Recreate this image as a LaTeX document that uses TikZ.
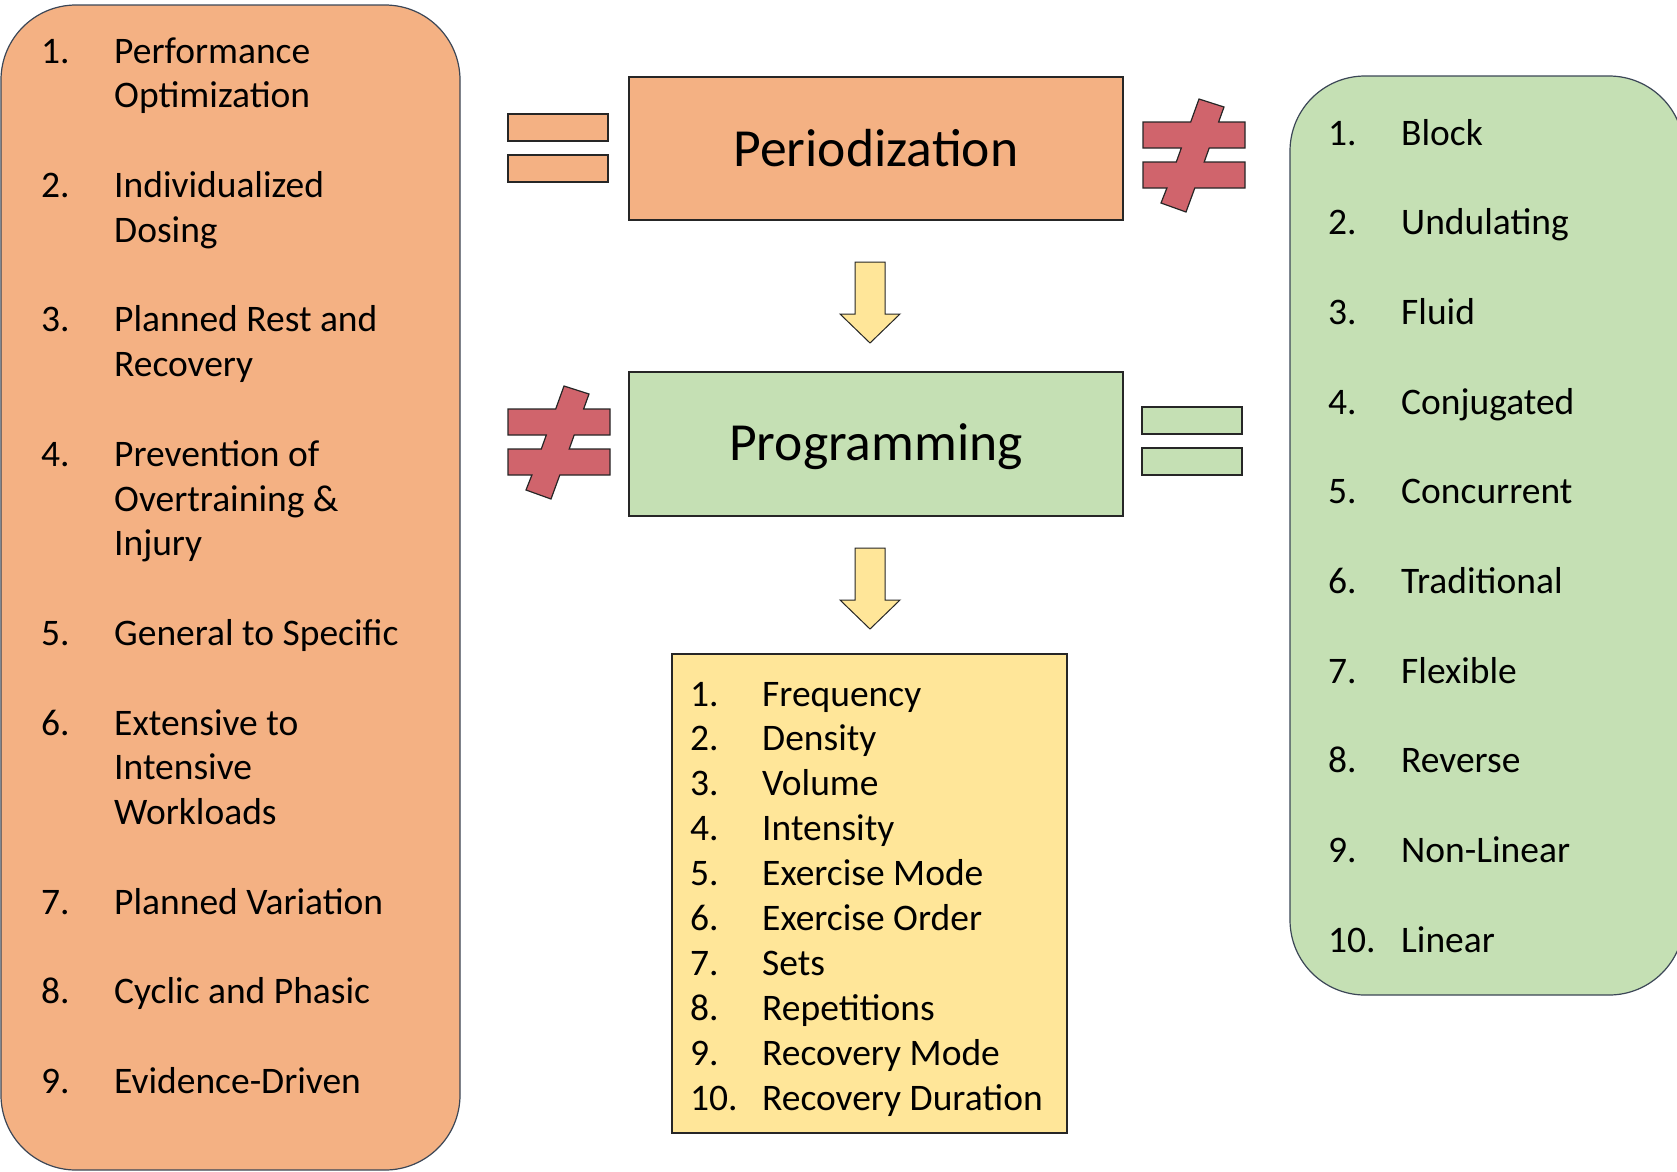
\documentclass[tikz,border=0pt]{standalone}
\usepackage{fontspec}
\setmainfont{Carlito}
\usetikzlibrary{calc}

\definecolor{periodorange}{HTML}{F4B183}
\definecolor{proggreen}{HTML}{C5E0B4}
\definecolor{varyellow}{HTML}{FFE699}
\definecolor{neqred}{HTML}{D0646C}
\definecolor{edgegray}{HTML}{3B4656}

\begin{document}
\begin{tikzpicture}[
        x=1pt, y=-1pt,
        box/.style={draw=black!85, line width=1.2pt},
        listbox/.style={draw=edgegray, line width=1.2pt, rounded corners=75pt},
        title/.style={font=\fontsize{53.6}{64}\selectfont},
        item/.style={font=\fontsize{37.5}{45}\selectfont, anchor=base west, inner sep=0pt},
        eqbar/.style={draw=black!85, line width=1.2pt},
        neqsign/.pic={
            \draw[draw=black!85, line width=1.2pt, fill=neqred, line join=miter]
                (56,0) -- (81,8) -- (75.6,23) -- (102,23) -- (102,49) -- (66.2,49)
                -- (61.2,63) -- (102,63) -- (102,89) -- (51.8,89) -- (43,113)
                -- (18,104) -- (23.9,89) -- (0,89) -- (0,63) -- (33.3,63)
                -- (38.3,49) -- (0,49) -- (0,23) -- (47.7,23) -- cycle;
        },
        downarrow/.pic={
            \draw[draw=black!85, line width=1pt, fill=varyellow, line join=miter]
                (-15,0) -- (15,0) -- (15,52) -- (30,52) -- (0,81)
                -- (-30,52) -- (-15,52) -- cycle;
        }
    ]
        \useasboundingbox (0,0) rectangle (1677,1171);

        % the three lists
        \node[listbox, fill=periodorange, minimum width=459pt, minimum height=1165pt] (principles) at (230.5,587.5) {};
        \node[listbox, fill=proggreen, minimum width=394pt, minimum height=919pt] (models) at (1487,535.5) {};
        \node[box, fill=varyellow, minimum width=395pt, minimum height=479pt] (variables) at (869.5,893.5) {};

        % center boxes
        \node[box, fill=periodorange, minimum width=494pt, minimum height=143pt, title] (period) at (876,148.5) {Periodization};
        \node[box, fill=proggreen, minimum width=494pt, minimum height=144pt, title, text depth=4pt] (prog) at (876,444) {Programming};

        % = and not =
        \draw[eqbar, fill=periodorange] (508,114) rectangle (608,141);
        \draw[eqbar, fill=periodorange] (508,155) rectangle (608,182);
        \draw[eqbar, fill=proggreen] (1142,407) rectangle (1242,434);
        \draw[eqbar, fill=proggreen] (1142,448) rectangle (1242,475);
        \pic at (1143,99) {neqsign};
        \pic at (508,386) {neqsign};

        \pic at (870,262) {downarrow};
        \pic at (870,548) {downarrow};

        % left list
        \foreach \n/\k in {1/0, 2/3, 3/6, 4/9, 5/13, 6/15, 7/19, 8/21, 9/23}
            \node[item] (pn\n) at (41,{63+44.8*\k}) {\n.};
        \foreach \k/\txt in {0/Performance, 1/Optimization, 3/Individualized, 4/Dosing,
                6/Planned Rest and, 7/Recovery, 9/Prevention of, 10/Overtraining \&,
                11/Injury, 13/General to Specific, 15/Extensive to, 16/Intensive,
                17/Workloads, 19/Planned Variation, 21/Cyclic and Phasic, 23/Evidence-Driven}
            \node[item] (p\k) at (114,{63+44.8*\k}) {\txt};

        % right list
        \foreach \n/\txt in {1/Block, 2/Undulating, 3/Fluid, 4/Conjugated, 5/Concurrent,
                6/Traditional, 7/Flexible, 8/Reverse, 9/Non-Linear, 10/Linear} {
            \node[item] (mn\n) at (1328,{145+89.7*(\n-1)}) {\n.};
            \node[item] (m\n) at (1401,{145+89.7*(\n-1)}) {\txt};
        }

        % bottom list
        \foreach \n/\txt in {1/Frequency, 2/Density, 3/Volume, 4/Intensity, 5/Exercise Mode,
                6/Exercise Order, 7/Sets, 8/Repetitions, 9/Recovery Mode, 10/Recovery Duration} {
            \node[item] (vn\n) at (690,{706+44.9*(\n-1)}) {\n.};
            \node[item] (v\n) at (762,{706+44.9*(\n-1)}) {\txt};
        }
\end{tikzpicture}
\end{document}
